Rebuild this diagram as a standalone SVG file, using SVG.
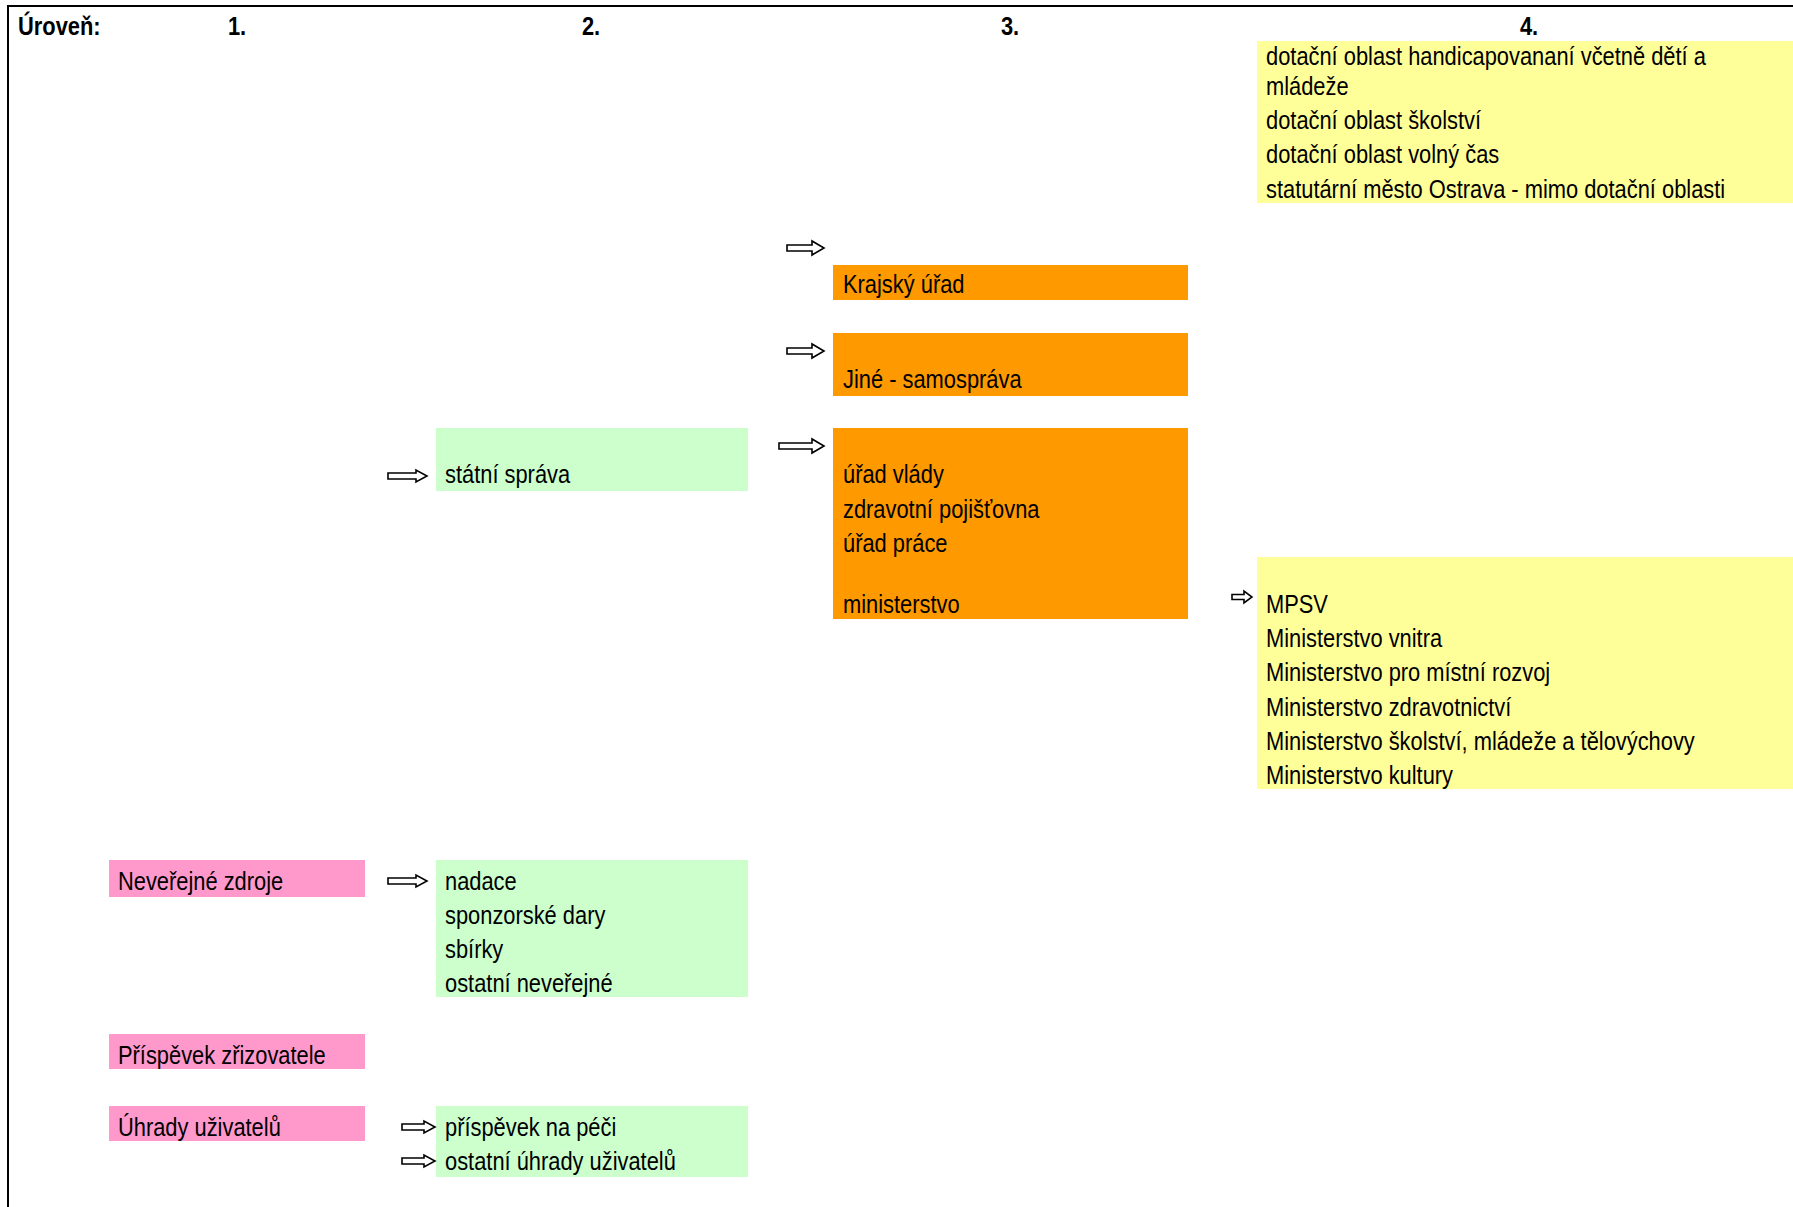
<svg xmlns="http://www.w3.org/2000/svg" width="1793" height="1207" viewBox="0 0 1793 1207">
<style>
text{font-family:"Liberation Sans Narrow","Liberation Sans",sans-serif;font-size:25px;fill:#000}
.h{font-weight:bold}
.y{fill:#FFFF99}.o{fill:#FF9900}.g{fill:#CCFFCC}.p{fill:#FF99CC}
.a{fill:#fff;stroke:#000;stroke-width:1.6;stroke-linejoin:miter}
</style>
<rect width="1793" height="1207" fill="#fff"/>
<g id="frame">
<line x1="7" y1="6" x2="1793" y2="6" stroke="#000" stroke-width="2"/>
<line x1="8" y1="5" x2="8" y2="1207" stroke="#000" stroke-width="2"/>
</g>
<g id="headers">
<text class="h" transform="translate(18 35) scale(.875 1)">Úroveň:</text>
<text class="h" transform="translate(237 35) scale(.875 1)" text-anchor="middle">1.</text>
<text class="h" transform="translate(591 35) scale(.875 1)" text-anchor="middle">2.</text>
<text class="h" transform="translate(1010 35) scale(.875 1)" text-anchor="middle">3.</text>
<text class="h" transform="translate(1529 35) scale(.875 1)" text-anchor="middle">4.</text>
</g>
<g id="dotacni-oblasti">
<rect class="y" x="1257" y="41" width="536" height="162"/>
<g transform="translate(1266 0) scale(.875 1)">
<text y="65">dotační oblast handicapovananí včetně dětí a</text>
<text y="95">mládeže</text>
<text y="129">dotační oblast školství</text>
<text y="163">dotační oblast volný čas</text>
<text y="198">statutární město Ostrava - mimo dotační oblasti</text>
</g>
</g>
<g id="krajsky-urad">
<rect class="o" x="833" y="265" width="355" height="35"/>
<text transform="translate(843 293) scale(.875 1)">Krajský úřad</text>
</g>
<g id="jine-samosprava">
<rect class="o" x="833" y="333" width="355" height="63"/>
<text transform="translate(843 388) scale(.875 1)">Jiné - samospráva</text>
</g>
<g id="urad-vlady">
<rect class="o" x="833" y="428" width="355" height="191"/>
<g transform="translate(843 0) scale(.875 1)">
<text y="483">úřad vlády</text>
<text y="518">zdravotní pojišťovna</text>
<text y="552">úřad práce</text>
<text y="613">ministerstvo</text>
</g>
</g>
<g id="statni-sprava">
<rect class="g" x="436" y="428" width="312" height="63"/>
<text transform="translate(445 483) scale(.875 1)">státní správa</text>
</g>
<g id="ministerstva">
<rect class="y" x="1257" y="557" width="536" height="232"/>
<g transform="translate(1266 0) scale(.875 1)">
<text y="613">MPSV</text>
<text y="647">Ministerstvo vnitra</text>
<text y="681">Ministerstvo pro místní rozvoj</text>
<text y="716">Ministerstvo zdravotnictví</text>
<text y="750">Ministerstvo školství, mládeže a tělovýchovy</text>
<text y="784">Ministerstvo kultury</text>
</g>
</g>
<g id="neverejne-zdroje">
<rect class="p" x="109" y="860" width="256" height="37"/>
<text transform="translate(118 890) scale(.875 1)">Neveřejné zdroje</text>
</g>
<g id="neverejne-polozky">
<rect class="g" x="436" y="860" width="312" height="137"/>
<g transform="translate(445 0) scale(.875 1)">
<text y="890">nadace</text>
<text y="924">sponzorské dary</text>
<text y="958">sbírky</text>
<text y="992">ostatní neveřejné</text>
</g>
</g>
<g id="prispevek-zrizovatele">
<rect class="p" x="109" y="1034" width="256" height="35"/>
<text transform="translate(118 1064) scale(.875 1)">Příspěvek zřizovatele</text>
</g>
<g id="uhrady-uzivatelu">
<rect class="p" x="109" y="1106" width="256" height="35"/>
<text transform="translate(118 1136) scale(.875 1)">Úhrady uživatelů</text>
</g>
<g id="uhrady-polozky">
<rect class="g" x="436" y="1106" width="312" height="71"/>
<g transform="translate(445 0) scale(.875 1)">
<text y="1136">příspěvek na péči</text>
<text y="1170">ostatní úhrady uživatelů</text>
</g>
</g>
<g id="connectors">
<path class="a" transform="translate(787,248)" d="M0,-3H25V-7L37,0L25,7V3H0Z"/>
<path class="a" transform="translate(787,351)" d="M0,-3H25V-7L37,0L25,7V3H0Z"/>
<path class="a" transform="translate(779,446)" d="M0,-3H33V-7L45,0L33,7V3H0Z"/>
<path class="a" transform="translate(388,476)" d="M0,-3H28V-6L39,0L28,6V3H0Z"/>
<path class="a" transform="translate(1232,597)" d="M0,-2.5H12V-6L20,0L12,6V2.5H0Z"/>
<path class="a" transform="translate(388,881)" d="M0,-3H28V-6L39,0L28,6V3H0Z"/>
<path class="a" transform="translate(402,1127)" d="M0,-3H22V-6L33,0L22,6V3H0Z"/>
<path class="a" transform="translate(402,1161)" d="M0,-3H22V-6L33,0L22,6V3H0Z"/>
</g>
</svg>
